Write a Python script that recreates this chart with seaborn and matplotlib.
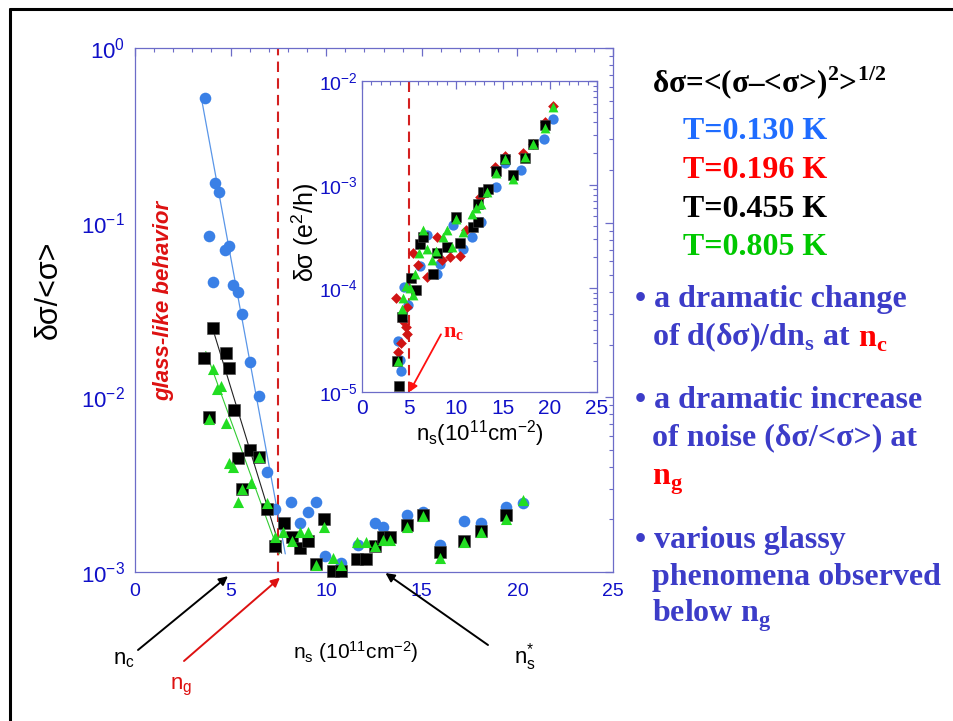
import matplotlib
matplotlib.use("Agg")
import matplotlib.pyplot as plt
import seaborn as sns
import numpy as np
from matplotlib.lines import Line2D
from matplotlib.ticker import MultipleLocator, LogLocator, NullFormatter

# ---------------- data: main panel (noise  δσ/<σ>) ----------------
blue130_x = [3.66, 4.18, 4.39, 3.87, 4.71, 4.92, 4.06, 5.13, 5.37, 5.58, 6.02, 6.47, 6.89, 7.34,
             8.18, 8.63, 9.03, 9.47, 9.94, 10.77, 11.68, 12.55, 12.95, 14.21, 15.08, 15.95, 17.2,
             18.1, 19.4, 20.28]
blue130_y = [0.52, 0.169, 0.15, 0.084, 0.0697, 0.0735, 0.046, 0.044, 0.040, 0.030, 0.016, 0.0102,
             0.00372, 0.0023, 0.00251, 0.00191, 0.0022, 0.00251, 0.00124, 0.00112, 0.00143, 0.00191,
             0.0018, 0.00212, 0.00221, 0.00143, 0.00196, 0.0019, 0.00237, 0.00249]

black455_x = [4.06, 3.60, 4.74, 4.92, 3.87, 5.16, 5.37, 6.00, 6.47, 5.58, 6.89, 7.34, 7.80, 8.20,
              8.63, 9.03, 9.47, 9.90, 10.37, 10.80, 11.63, 12.08, 12.55, 12.95, 13.33, 14.21, 15.08,
              15.95, 17.2, 18.1, 19.4]
black455_y = [0.0248, 0.0169, 0.0179, 0.0148, 0.0077, 0.0085, 0.00452, 0.0050, 0.00457, 0.00299,
              0.00229, 0.0014, 0.00192, 0.00158, 0.00138, 0.00151, 0.00111, 0.0020, 0.00101, 0.00101,
              0.00118, 0.00118, 0.0014, 0.00159, 0.00159, 0.00186, 0.00212, 0.00131, 0.00151,
              0.00172, 0.00212]

green805_x = [4.08, 4.27, 4.51, 3.87, 4.74, 4.93, 5.11, 5.58, 6.05, 6.47, 5.37, 6.89, 7.32, 7.76,
              8.20, 8.63, 9.03, 9.47, 9.90, 10.37, 10.77, 11.60, 12.08, 12.55, 12.95, 13.33, 14.21,
              15.08, 15.95, 17.2, 18.1, 19.4, 20.28]
green805_y = [0.0145, 0.0111, 0.0116, 0.0075, 0.00716, 0.00419, 0.0040, 0.0030, 0.00322, 0.00454,
              0.0025, 0.00249, 0.00159, 0.0017, 0.0015, 0.0017, 0.0017, 0.0011, 0.0018, 0.0012,
              0.0011, 0.00149, 0.00149, 0.0014, 0.00152, 0.00152, 0.00182, 0.00209, 0.00121,
              0.00149, 0.0017, 0.0020, 0.00258]

# straight-line fits (end points)
blue_fit_x = [3.49, 7.86]
blue_fit_y = [0.504, 0.00127]
black_fit_x = [4.06, 7.67]
black_fit_y = [0.0248, 0.00128]
green_fit_x = [3.70, 7.55]
green_fit_y = [0.0183, 0.00127]

n_g = 7.5
n_c = 5.0
n_star = 13.1

# ---------------- data: inset (δσ in e^2/h) ----------------
in_blue_x = [4.11, 4.04, 3.87, 4.93, 4.50, 6.17, 6.95, 7.94, 8.30, 9.72, 10.78, 11.74, 12.62,
             14.26, 15.21, 16.88, 19.40, 20.35]
in_blue_y = [1.6e-5, 2.04e-5, 3.1e-5, 6.9e-5, 1.04e-4, 1.66e-4, 3.26e-4, 1.39e-4, 1.71e-4,
             4.07e-4, 2.42e-4, 3.14e-4, 4.38e-4, 9.5e-4, 1.62e-3, 1.37e-3, 2.77e-3, 4.33e-3]

in_red_x = [3.62, 3.87, 4.15, 4.82, 4.68, 4.40, 4.75, 5.46, 5.99, 6.88, 7.94, 8.48, 9.36, 10.43,
            11.06, 12.55, 14.15, 15.21, 17.16, 18.16, 19.47, 20.28]
in_red_y = [8.0e-5, 2.45e-5, 3.0e-5, 3.6e-5, 4.27e-5, 4.8e-5, 6.65e-5, 2.17e-4, 1.67e-4, 1.28e-4,
            3.14e-4, 1.87e-4, 2.0e-4, 2.05e-4, 3.64e-4, 7.6e-4, 1.48e-3, 1.87e-3, 2.0e-3,
            2.48e-3, 4.0e-3, 5.7e-3]

in_black_x = [3.97, 3.69, 4.22, 5.18, 5.74, 6.17, 6.52, 7.52, 7.94, 9.01, 9.96, 10.43, 11.77,
              12.38, 12.38, 12.91, 13.37, 14.26, 15.21, 16.03, 17.34, 18.16, 19.47]
in_black_y = [1.13e-5, 1.97e-5, 5.3e-5, 1.25e-4, 9.6e-5, 2.67e-4, 3.14e-4, 1.39e-4, 2.17e-4,
              2.51e-4, 4.9e-4, 2.71e-4, 3.92e-4, 4.38e-4, 6.48e-4, 8.5e-4, 9.03e-4, 1.36e-3,
              1.78e-3, 1.23e-3, 1.82e-3, 2.45e-3, 3.73e-3]

in_green_x = [3.87, 4.22, 4.40, 4.68, 5.10, 5.39, 5.64, 6.10, 6.52, 6.88, 7.41, 7.87, 8.65, 9.08,
              9.54, 9.96, 10.78, 11.67, 12.13, 12.66, 13.26, 14.26, 15.21, 16.03, 17.34, 18.16,
              19.47, 20.28]
in_green_y = [1.97e-5, 6.27e-5, 8.0e-5, 1.05e-4, 1.0e-4, 8.6e-5, 1.39e-4, 2.17e-4, 3.69e-4,
              2.42e-4, 1.87e-4, 2.29e-4, 3.14e-4, 3.64e-4, 2.51e-4, 4.71e-4, 3.51e-4, 5.27e-4,
              5.89e-4, 6.57e-4, 8.5e-4, 1.3e-3, 1.78e-3, 1.14e-3, 1.84e-3, 2.48e-3, 3.55e-3,
              5.6e-3]

temps = ["T=0.130 K", "T=0.196 K", "T=0.455 K", "T=0.805 K"]

# ---------------- style ----------------
sns.set_style("white")
plt.rcParams['font.family'] = ['Liberation Sans', 'DejaVu Sans']
plt.rcParams['mathtext.fontset'] = 'custom'
plt.rcParams['mathtext.rm'] = 'Liberation Sans'
plt.rcParams['mathtext.it'] = 'Liberation Sans:italic'
plt.rcParams['mathtext.sf'] = 'Liberation Sans'
plt.rcParams['mathtext.bf'] = 'Liberation Serif:bold'

C_BLUE = "#3a80e6"
C_RED = "#d01414"
C_BLACK = "#000000"
C_GREEN = "#22dd22"
SPINE = "#6c6cc8"
TICKC = "#1010c8"
TXT_BLUE = "#3c3cc8"

W, H = 954, 721
fig = plt.figure(figsize=(W / 100, H / 100), dpi=100)
fig.patch.set_facecolor("white")


def fx(px):
    return px / W


def fy(py):
    return 1 - py / H


def style_axes(ax, fsx, fsy, pad_x, pad_y):
    for s in ax.spines.values():
        s.set_color(SPINE)
        s.set_linewidth(0.9)
    ax.tick_params(which='both', direction='in', top=True, right=True, colors=SPINE,
                   labelcolor=TICKC)
    ax.tick_params(axis='x', which='major', pad=pad_x, labelsize=fsx)
    ax.tick_params(axis='y', which='major', pad=pad_y, labelsize=fsy)
    ax.tick_params(which='major', length=6, width=0.9)
    ax.tick_params(which='minor', length=3, width=0.8)
    ax.xaxis.set_major_locator(MultipleLocator(5))
    ax.xaxis.set_minor_locator(MultipleLocator(1))
    ax.yaxis.set_major_locator(LogLocator(base=10))
    ax.yaxis.set_minor_locator(LogLocator(base=10, subs=np.arange(2, 10)))
    ax.yaxis.set_minor_formatter(NullFormatter())


# ---------------- main axes ----------------
ax = fig.add_axes([fx(135), fy(572), fx(613) - fx(135), fy(48) - fy(572)])
ax.set_yscale('log')
ax.set_xlim(0, 25)
ax.set_ylim(1e-3, 1)

sns.lineplot(x=blue_fit_x, y=blue_fit_y, ax=ax, color="#5a96e8", lw=0.9, sort=False, zorder=2)
sns.lineplot(x=black_fit_x, y=black_fit_y, ax=ax, color="#222222", lw=0.8, sort=False, zorder=2)
sns.lineplot(x=green_fit_x, y=green_fit_y, ax=ax, color="#33cc33", lw=0.8, sort=False, zorder=2)

sns.scatterplot(x=blue130_x, y=blue130_y, ax=ax, color=C_BLUE, marker='o', s=70,
                linewidth=0, clip_on=False, zorder=3)
sns.scatterplot(x=black455_x, y=black455_y, ax=ax, color=C_BLACK, marker='s', s=64,
                linewidth=0.4, edgecolor="#444444", clip_on=False, zorder=4)
sns.scatterplot(x=green805_x, y=green805_y, ax=ax, color=C_GREEN, marker='^', s=64,
                linewidth=0, clip_on=False, zorder=5)

ax.axvline(n_g, color="#d42020", lw=1.5, dashes=(5, 3), zorder=1)

style_axes(ax, 14, 16, 8, 7)
ax.set_xticks([0, 5, 10, 15, 20, 25])

ax.set_xlabel(r"n$_\mathdefault{s}$ (10$^\mathdefault{11}$cm$^\mathdefault{-2}$)", fontsize=15,
              color="black")
ax.xaxis.set_label_coords(0.461, -0.128)
ax.set_ylabel("δσ/<σ>", fontsize=22, color="black")
ax.yaxis.set_label_coords(-0.150, 0.538)

ax.text((164 - 135) / 478, (572 - 301) / 524, "glass-like behavior", transform=ax.transAxes,
        rotation=90, ha='center', va='center', color="#dd1111", fontsize=16,
        fontweight='bold', fontstyle='italic')

# bottom arrows
ax.annotate("", xy=(4.86, -0.008), xycoords=('data', 'axes fraction'),
            xytext=(fx(138), fy(650)), textcoords='figure fraction',
            arrowprops=dict(arrowstyle='-|>', color='black', lw=1.4, mutation_scale=13,
                            shrinkA=0, shrinkB=0), annotation_clip=False)
ax.annotate("", xy=(7.58, -0.011), xycoords=('data', 'axes fraction'),
            xytext=(fx(184), fy(661)), textcoords='figure fraction',
            arrowprops=dict(arrowstyle='-|>', color='#dd1111', lw=1.4, mutation_scale=13,
                            shrinkA=0, shrinkB=0), annotation_clip=False)
ax.annotate("", xy=(n_star, -0.002), xycoords=('data', 'axes fraction'),
            xytext=(fx(488), fy(645)), textcoords='figure fraction',
            arrowprops=dict(arrowstyle='-|>', color='black', lw=1.4, mutation_scale=13,
                            shrinkA=0, shrinkB=0), annotation_clip=False)
fig.text(fx(124), fy(659), r"n$_\mathdefault{c}$", fontsize=16, ha='center', va='center',
         color='black')
fig.text(fx(181), fy(687), r"n$_\mathdefault{g}$", fontsize=16, ha='center', va='center',
         color='#dd1111')
fig.text(fx(525), fy(657), r"$\mathdefault{n}^{\mathdefault{*}}_{\mathdefault{s}}$", fontsize=16,
         ha='center', va='center', color='black')

# ---------------- inset ----------------
axi = fig.add_axes([fx(362), fy(392), fx(597) - fx(362), fy(81) - fy(392)])
axi.set_facecolor("white")
axi.set_yscale('log')
axi.set_xlim(0, 25)
axi.set_ylim(1e-5, 1e-2)

sns.scatterplot(x=in_blue_x, y=in_blue_y, ax=axi, color=C_BLUE, marker='o', s=55,
                linewidth=0, clip_on=False, zorder=3)
sns.scatterplot(x=in_red_x, y=in_red_y, ax=axi, color=C_RED, marker='D', s=30,
                linewidth=0, clip_on=False, zorder=4)
sns.scatterplot(x=in_black_x, y=in_black_y, ax=axi, color=C_BLACK, marker='s', s=52,
                linewidth=0.4, edgecolor="#444444", clip_on=False, zorder=5)
sns.scatterplot(x=in_green_x, y=in_green_y, ax=axi, color=C_GREEN, marker='^', s=50,
                linewidth=0, clip_on=False, zorder=6)
axi.axvline(n_c, color="#d42020", lw=1.5, dashes=(5, 3), zorder=2)

style_axes(axi, 15, 14, 5, 3)
axi.set_xticks([0, 5, 10, 15, 20, 25])
axi.set_xlabel(r"n$_\mathdefault{s}$(10$^\mathdefault{11}$cm$^\mathdefault{-2}$)", fontsize=16,
               color="black")
axi.xaxis.set_label_coords(0.502, -0.085)
axi.set_ylabel(r"δσ (e$^\mathdefault{2}$/h)", fontsize=18, color="black")
axi.yaxis.set_label_coords(-0.175, 0.514)

axi.annotate("", xy=(5.05, 1.0e-5), xytext=(8.4, 3.6e-5),
             arrowprops=dict(arrowstyle='-|>', color='#ff1010', lw=1.3, mutation_scale=12,
                             shrinkA=0, shrinkB=0), annotation_clip=False, zorder=7)
axi.text(8.6, 3.7e-5, r"n$_\mathbf{c}$", fontsize=16, fontfamily='Liberation Serif',
         fontweight='bold', color='#ff1010', ha='left', va='center', zorder=7)

# ---------------- right-hand text ----------------
serif = dict(fontfamily='Liberation Serif', fontweight='bold')


def chain(prev, text, color, dx=0, size=22):
    return ax.annotate(text, xy=(1, 0), xycoords=prev, xytext=(dx, 0), textcoords='offset points',
                       ha='left', va='bottom', color=color, fontsize=size,
                       annotation_clip=False, **serif)


fig.text(fx(652), fy(93), r"δσ=<(σ–<σ>)$^\mathbf{2}$>$^\mathbf{1/2}$", fontsize=22.5,
         color='black', va='baseline', ha='left', **serif)

t_cols = ["#1f6cff", "#ff0000", "#000000", "#00c800"]
t_base = [139, 178, 217, 255]
for lab, col, b in zip(temps, t_cols, t_base):
    fig.text(fx(683), fy(b), lab, fontsize=23, color=col, va='baseline', ha='left', **serif)

FS = 23
fig.text(fx(635), fy(307), "• a dramatic change", fontsize=FS, color=TXT_BLUE,
         va='baseline', **serif)
t = fig.text(fx(652), fy(345), r"of d(δσ)/dn$_\mathbf{s}$ at", fontsize=FS, color=TXT_BLUE,
             va='baseline', **serif)
chain(t, r"n$_\mathbf{c}$", '#ff0000', dx=5, size=FS)
fig.text(fx(635), fy(408), "• a dramatic increase", fontsize=FS, color=TXT_BLUE,
         va='baseline', **serif)
fig.text(fx(652), fy(445), "of noise (δσ/<σ>) at", fontsize=FS, color=TXT_BLUE,
         va='baseline', **serif)
fig.text(fx(652), fy(485), r"n$_\mathbf{g}$", fontsize=FS, color='#ff0000',
         va='baseline', **serif)
fig.text(fx(635), fy(548), "• various glassy", fontsize=FS, color=TXT_BLUE,
         va='baseline', **serif)
fig.text(fx(652), fy(585), "phenomena observed", fontsize=FS, color=TXT_BLUE,
         va='baseline', **serif)
fig.text(fx(652), fy(622), r"below n$_\mathbf{g}$", fontsize=FS, color=TXT_BLUE,
         va='baseline', **serif)

# ---------------- page frame ----------------
fig.add_artist(Line2D([fx(10), 1.0], [fy(9), fy(9)], transform=fig.transFigure,
                      color='black', lw=2.2))
fig.add_artist(Line2D([fx(10), fx(10)], [fy(9), 0.0], transform=fig.transFigure,
                      color='black', lw=2.2))

fig.savefig("out.png", dpi=100, facecolor="white")
